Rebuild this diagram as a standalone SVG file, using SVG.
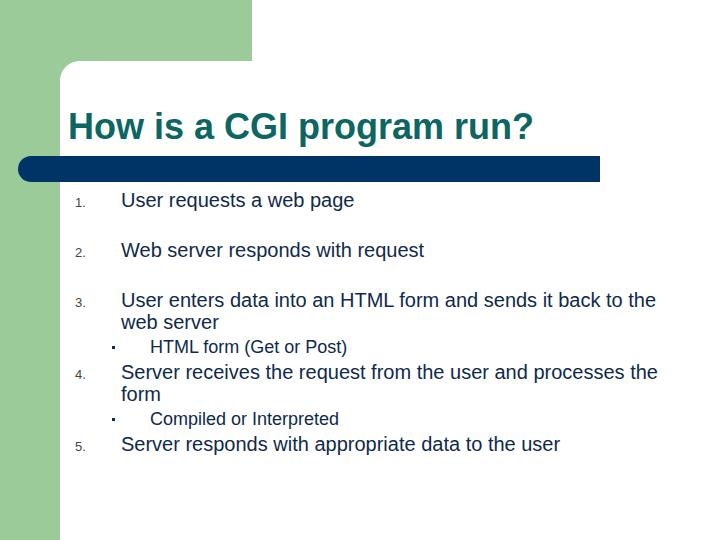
<svg xmlns="http://www.w3.org/2000/svg" width="720" height="540" viewBox="0 0 720 540">
<style>
.title{font-family:"Liberation Sans",Arial,sans-serif;font-size:36px;font-weight:bold;fill:#0d6662}
.body{font-family:"Liberation Sans",Arial,sans-serif;font-size:20px;fill:#0f2a4a}
.sub{font-family:"Liberation Sans",Arial,sans-serif;font-size:18px;fill:#0f2a4a}
.num{font-family:"Liberation Sans",Arial,sans-serif;font-size:13px;fill:#444444}
.bul{fill:#0f2a4a}
</style>
<rect width="720" height="540" fill="#ffffff"/>
<g id="background">
<path d="M0 0 H252 V61 H80 A20 20 0 0 0 60 81 V540 H0 Z" fill="#9ccb9a"/>
<path d="M31 156 H600 V182 H31 A13 13 0 0 1 31 156 Z" fill="#003466"/>
</g>
<g id="title"><text class="title" x="68" y="139">How is a CGI program run?</text></g>
<g id="item1">
<text class="num" x="75" y="207">1.</text>
<text class="body" x="121" y="207">User requests a web page</text>
</g>
<g id="item2">
<text class="num" x="75" y="257">2.</text>
<text class="body" x="121" y="257">Web server responds with request</text>
</g>
<g id="item3">
<text class="num" x="75" y="307">3.</text>
<text class="body" x="121" y="307">User enters data into an HTML form and sends it back to the</text>
<text class="body" x="121" y="329">web server</text>
</g>
<g id="sub1">
<rect class="bul" x="112" y="346" width="3" height="3"/>
<text class="sub" x="150" y="353">HTML form (Get or Post)</text>
</g>
<g id="item4">
<text class="num" x="75" y="379">4.</text>
<text class="body" x="121" y="379">Server receives the request from the user and processes the</text>
<text class="body" x="121" y="401">form</text>
</g>
<g id="sub2">
<rect class="bul" x="112" y="418" width="3" height="3"/>
<text class="sub" x="150" y="425">Compiled or Interpreted</text>
</g>
<g id="item5">
<text class="num" x="75" y="451">5.</text>
<text class="body" x="121" y="451">Server responds with appropriate data to the user</text>
</g>
<g id="connectors"/>
</svg>
